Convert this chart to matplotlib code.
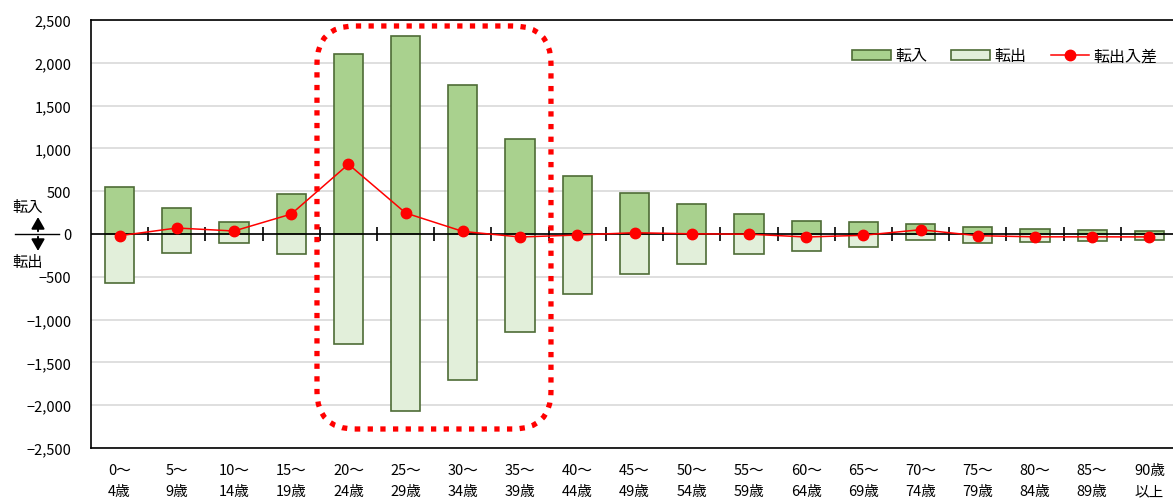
import matplotlib
matplotlib.use("Agg")
import matplotlib.pyplot as plt
import matplotlib.transforms as mtransforms
from matplotlib.patches import FancyBboxPatch, Patch
from matplotlib.lines import Line2D
import numpy as np

plt.rcParams['font.family'] = ['Noto Sans CJK JP', 'DejaVu Sans']

categories = ["0～\n4歳", "5～\n9歳", "10～\n14歳", "15～\n19歳", "20～\n24歳",
              "25～\n29歳", "30～\n34歳", "35～\n39歳", "40～\n44歳", "45～\n49歳",
              "50～\n54歳", "55～\n59歳", "60～\n64歳", "65～\n69歳", "70～\n74歳",
              "75～\n79歳", "80～\n84歳", "85～\n89歳", "90歳\n以上"]
inflow = [550, 300, 135, 468, 2100, 2313, 1740, 1115, 680, 483, 350, 232, 155, 135, 117, 85, 55, 52, 38]
outflow = [-570, -225, -105, -235, -1285, -2068, -1710, -1150, -700, -471, -350, -235, -193, -150, -67, -105, -88, -85, -72]
net = [-20, 70, 35, 233, 815, 245, 30, -35, -12, 15, 2, -2, -35, -15, 50, -20, -33, -33, -34]

yticks = [2500, 2000, 1500, 1000, 500, 0, -500, -1000, -1500, -2000, -2500]
yticklabels = ["2,500", "2,000", "1,500", "1,000", "500", "0", "−500", "−1,000", "−1,500", "−2,000", "−2,500"]

W, H = 1173, 502
fig = plt.figure(figsize=(W / 100, H / 100), dpi=100)
ax = fig.add_axes([91 / W, 53 / H, 1087 / W, 428 / H])

x = np.arange(len(categories))
green_in = "#a9d18e"
green_out = "#e2efda"
edge = "#4e6c36"
ax.bar(x, inflow, width=0.51, color=green_in, edgecolor=edge, linewidth=1.2, zorder=3)
ax.bar(x, outflow, width=0.51, color=green_out, edgecolor=edge, linewidth=1.2, zorder=3)

ax.set_xlim(-0.5, len(categories) - 0.5)
ax.set_ylim(-2500, 2500)

# zero axis with crossing tick marks
ax.axhline(0, color="black", lw=1.2, zorder=4)
bounds = np.arange(0.5, len(categories) - 0.5, 1.0)
ax.plot(bounds, np.zeros_like(bounds), ls="none", marker="|", ms=10, mew=1.2, color="black", zorder=4)

ax.plot(x, net, color="#ff0000", lw=1.1, marker="o", ms=7.5, zorder=5)

ax.set_yticks(yticks)
ax.set_yticklabels(yticklabels, fontsize=10.5)
ax.set_xticks(x)
ax.set_xticklabels(categories, fontsize=10.5, linespacing=1.6)
ax.tick_params(axis="y", length=0, pad=14)
ax.tick_params(axis="x", length=0, pad=11)
ax.grid(axis="y", color="#d9d9d9", lw=1.2, zorder=0)
ax.set_axisbelow(True)
for s in ["left", "top", "bottom"]:
    ax.spines[s].set_color("black")
    ax.spines[s].set_linewidth(1.2)
ax.spines["right"].set_visible(False)

# legend
handles = [Patch(facecolor=green_in, edgecolor=edge, lw=1.2, label="転入"),
           Patch(facecolor=green_out, edgecolor=edge, lw=1.2, label="転出"),
           Line2D([0], [0], color="#ff0000", lw=1.1, marker="o", ms=7.5, label="転出入差")]
ax.legend(handles=handles, ncol=3, frameon=False, fontsize=11.5,
          handlelength=2.4, handleheight=0.65, columnspacing=1.5, handletextpad=0.3,
          loc="center right", bbox_to_anchor=(1172 / W, 1 - 57 / H),
          bbox_transform=fig.transFigure)

# left side labels and arrows
bt = mtransforms.blended_transform_factory(fig.transFigure, ax.transData)
ax.add_line(Line2D([15 / W, 59 / W], [0, 0], color="black", lw=1.0, transform=bt, clip_on=False))
ax.annotate("", xy=(38 / W, 230), xytext=(38 / W, 0), xycoords=bt, textcoords=bt,
            arrowprops=dict(arrowstyle="-|>,head_width=0.4,head_length=0.7", color="black", lw=1.4),
            annotation_clip=False)
ax.annotate("", xy=(38 / W, -230), xytext=(38 / W, 0), xycoords=bt, textcoords=bt,
            arrowprops=dict(arrowstyle="-|>,head_width=0.4,head_length=0.7", color="black", lw=1.4),
            annotation_clip=False)
ax.text(28 / W, 320, "転入", transform=bt, fontsize=11, ha="center", va="center", clip_on=False)
ax.text(28 / W, -320, "転出", transform=bt, fontsize=11, ha="center", va="center", clip_on=False)

# red dotted rounded rectangle around 20-39
fig.canvas.draw()
(x0, y0) = ax.transData.transform((3.45, -2278))
(x1, y1) = ax.transData.transform((7.54, 2430))
r = 38
box = FancyBboxPatch((x0 + r, y0 + r), (x1 - x0) - 2 * r, (y1 - y0) - 2 * r,
                     boxstyle=f"round,pad={r},rounding_size={r}",
                     transform=mtransforms.IdentityTransform(),
                     fill=False, edgecolor="#ff0000", lw=3.8,
                     linestyle=(0, (1, 1.4)), capstyle="butt", zorder=6, clip_on=False)
fig.add_artist(box)

fig.savefig("out.png", dpi=100)
